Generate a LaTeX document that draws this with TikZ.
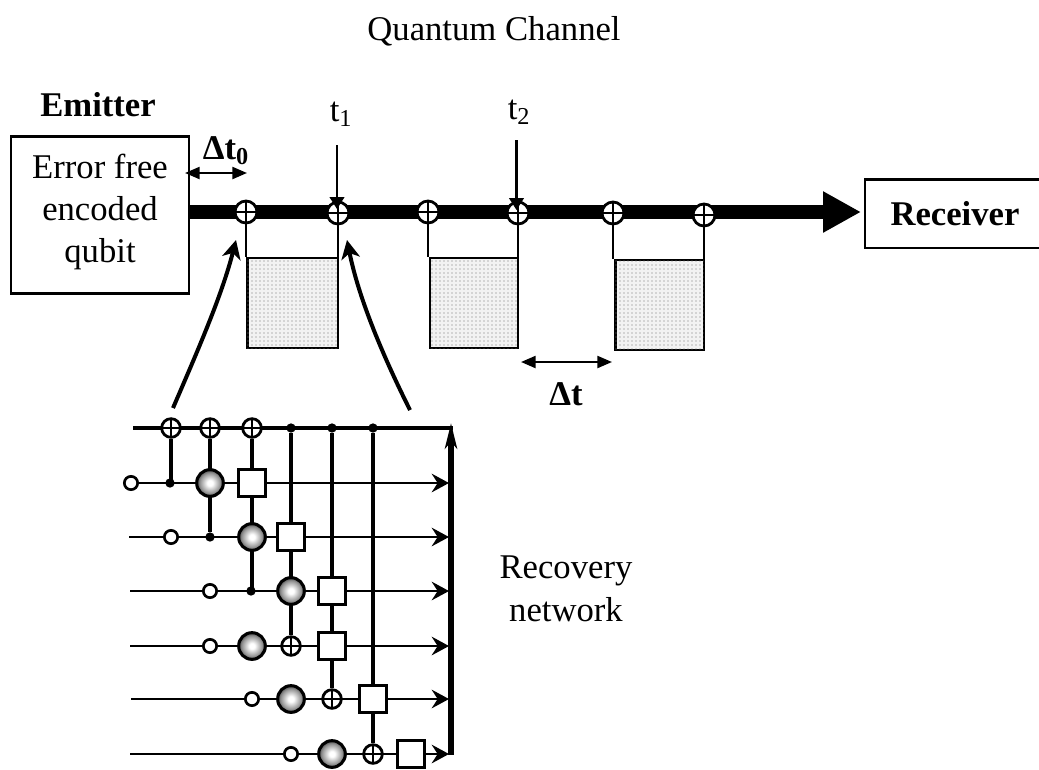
\documentclass[tikz,border=0pt]{standalone}
\usepackage{fontspec}
\setmainfont{Liberation Serif}
\usetikzlibrary{arrows.meta,patterns,backgrounds}
\pgfdeclareradialshading{spherefill}{\pgfpoint{0bp}{0bp}}{color(0bp)=(white); color(5bp)=(white); color(19bp)=(black!42); color(25bp)=(black!70); color(50bp)=(black!70)}
\tikzset{
  lbl/.style={inner sep=0pt,font=\fontsize{26}{31}\selectfont,align=center},
  blbl/.style={lbl,font=\fontsize{26}{31}\selectfont\bfseries},
  xorgate/.style={circle,draw=black,line width=2.1pt,fill=white,minimum size=#1,inner sep=0pt,
    path picture={\draw[line width=1.7pt] (path picture bounding box.north)--(path picture bounding box.south)
      (path picture bounding box.west)--(path picture bounding box.east);}},
  xorgate/.default=14pt,
  sphere gate/.style={circle,draw=black,line width=2.3pt,minimum size=20pt,inner sep=0pt,shading=spherefill},
  sqgate/.style={rectangle,draw=black,line width=2.3pt,fill=white,minimum size=20pt,inner sep=0pt},
  opengate/.style={circle,draw=black,line width=2pt,fill=white,minimum size=10pt,inner sep=0pt},
  dotgate/.style={circle,fill=black,minimum size=7pt,inner sep=0pt},
  ebox/.style={rectangle,draw=black,line width=2pt,fill=white,inner sep=0pt},
  store/.style={rectangle,draw=black,line width=2pt,inner sep=0pt,fill=black!5,postaction={pattern=dots,pattern color=black!55}},
  rowline/.style={line width=1.6pt,-{Stealth[length=13pt,width=14pt,inset=4.5pt]}},
  ctrl/.style={line width=2.3pt},
  legline/.style={line width=2.2pt},
  timearrow/.style={line width=1.6pt,-{Stealth[length=9pt,width=11pt,inset=0pt]}},
  span/.style={line width=1.7pt,{Stealth[length=11pt,width=9pt,inset=0pt]}-{Stealth[length=11pt,width=9pt,inset=0pt]}},
  zoomarrow/.style={line width=3pt,-{Stealth[length=14pt,width=14pt,inset=4pt]}}
}
\begin{document}
\begin{tikzpicture}[x=0.75pt,y=-0.75pt]
\useasboundingbox (0,0) rectangle (1039,769);
% texts
\node[lbl] (title) at (494,31) {Quantum Channel};
\node[blbl] (emit) at (98,105) {Emitter};
\node[lbl] (t1) at (341,114) {t\textsubscript{1}};
\node[lbl] (t2) at (519,112) {t\textsubscript{2}};
\node[blbl] (dt0) at (226,151) {Δt\textsubscript{0}};
\node[blbl] (dt) at (566,394) {Δt};
\node[lbl] (recov) at (566,589) {Recovery\\[1.5pt]network};
% boxes
\node[ebox,minimum width=133.5pt,minimum height=118pt,lbl] (source) at (100,215) {};
\node[lbl] (sourcetext) at (100,212) {Error free\\[0.8pt]encoded\\[0.8pt]qubit};
\node[ebox,minimum width=135pt,minimum height=51.5pt,blbl] (recv) at (955,213.5) {Receiver};
\node[store,minimum width=68pt,minimum height=67.5pt] (m1) at (292.5,303) {};
\node[store,minimum width=66pt,minimum height=67.5pt] (m2) at (474,303) {};
\node[store,minimum width=66.5pt,minimum height=67.5pt] (m3) at (659.5,305) {};
% main line gates
\node[xorgate=16.5pt] (a1) at (246,212) {};
\node[xorgate=16.5pt] (a2) at (338,213) {};
\node[xorgate=16.5pt] (a3) at (428,212) {};
\node[xorgate=16.5pt] (a4) at (518,213) {};
\node[xorgate=16.5pt] (a5) at (613,213) {};
\node[xorgate=16.5pt] (a6) at (704,215) {};
\coordinate (mainend) at (861,212);
\coordinate (t1top) at (337,145);
\coordinate (t2top) at (516.5,140);
\coordinate (t1tip) at (337,209);
\coordinate (t2tip) at (516.5,210);
% network top row
\coordinate (topstart) at (133,428);
\coordinate (topend) at (453,428);
\node[xorgate] (x1) at (171,428) {};
\node[xorgate] (x2) at (210,428) {};
\node[xorgate] (x3) at (252,428) {};
\node[dotgate] (c4) at (291,428) {};
\node[dotgate] (c5) at (332,428) {};
\node[dotgate] (c6) at (373,428) {};
% row 1
\node[opengate] (o1) at (131,483) {};
\node[dotgate] (d1) at (170,483) {};
\node[sphere gate] (s1) at (210,483) {};
\node[sqgate] (q1) at (252,483) {};
\coordinate (e1) at (449,483);
% row 2
\coordinate (b2) at (129,537);
\node[opengate] (o2) at (171,537) {};
\node[dotgate] (d2) at (210,537) {};
\node[sphere gate] (s2) at (252,537) {};
\node[sqgate] (q2) at (291,537) {};
\coordinate (e2) at (449,537);
% row 3
\coordinate (b3) at (130,591);
\node[opengate] (o3) at (210,591) {};
\node[dotgate] (d3) at (251,591) {};
\node[sphere gate] (s3) at (291,591) {};
\node[sqgate] (q3) at (332,591) {};
\coordinate (e3) at (449,591);
% row 4
\coordinate (b4) at (130,646);
\node[opengate] (o4) at (210,646) {};
\node[sphere gate] (s4) at (252,646) {};
\node[xorgate] (x4) at (291,646) {};
\node[sqgate] (q4) at (332,646) {};
\coordinate (e4) at (449,646);
% row 5
\coordinate (b5) at (131,699);
\node[opengate] (o5) at (252,699) {};
\node[sphere gate] (s5) at (291,699) {};
\node[xorgate] (x5) at (332,699) {};
\node[sqgate] (q5) at (373,699) {};
\coordinate (e5) at (449,699);
% row 6
\coordinate (b6) at (130,754);
\node[opengate] (o6) at (291,754) {};
\node[sphere gate] (s6) at (332,754) {};
\node[xorgate] (x6) at (373,754) {};
\node[sqgate] (q6) at (411,754) {};
\coordinate (e6) at (449,754);
\coordinate (barbot) at (451,755);
\coordinate (bartop) at (451,423);
% span arrows
\coordinate (sp0a) at (185,173); \coordinate (sp0b) at (247,173);
\coordinate (spa) at (521,362); \coordinate (spb) at (612,362);
% zoom arrows
\coordinate (zl0) at (173,408); \coordinate (zl1) at (236,240);
\coordinate (zr0) at (410,410); \coordinate (zr1) at (347,240);
\begin{scope}[on background layer]
  \draw[line width=10pt,-{Triangle[length=28.5pt,width=29pt]}] (source.east |- mainend) -- (mainend);
  \draw[legline] (a1.south) -- (a1.south |- m1.north);
  \draw[legline] (a2.south) -- (a2.south |- m1.north);
  \draw[legline] (a3.south) -- (a3.south |- m2.north);
  \draw[legline] (a4.south) -- (a4.south |- m2.north);
  \draw[legline] (a5.south) -- (a5.south |- m3.north);
  \draw[legline] (a6.south) -- (a6.south |- m3.north);
  \draw[line width=2.7pt] (topstart) -- (topend);
  \draw[ctrl] (x1) -- (d1 -| x1);
  \draw[ctrl] (x2) -- (d2);
  \draw[ctrl] (x3) -- (d3 -| x3);
  \draw[ctrl] (c4) -- (x4);
  \draw[ctrl] (c5) -- (x5);
  \draw[ctrl] (c6) -- (x6);
  \draw[rowline] (o1) -- (e1);
  \draw[rowline] (b2) -- (e2);
  \draw[rowline] (b3) -- (e3);
  \draw[rowline] (b4) -- (e4);
  \draw[rowline] (b5) -- (e5);
  \draw[rowline] (b6) -- (e6);
\end{scope}
\draw[line width=4.3pt,-{Stealth[length=19pt,width=9pt,inset=5pt]}] (barbot) -- (bartop);
\draw[timearrow] (t1top) -- (t1tip);
\draw[timearrow] (t2top) -- (t2tip);
\draw[span] (sp0a) -- (sp0b);
\draw[span] (spa) -- (spb);
\draw[zoomarrow] (zl0) .. controls (198,350) and (222,295) .. (zl1);
\draw[zoomarrow] (zr0) .. controls (380,350) and (358,295) .. (zr1);
\end{tikzpicture}
\end{document}
